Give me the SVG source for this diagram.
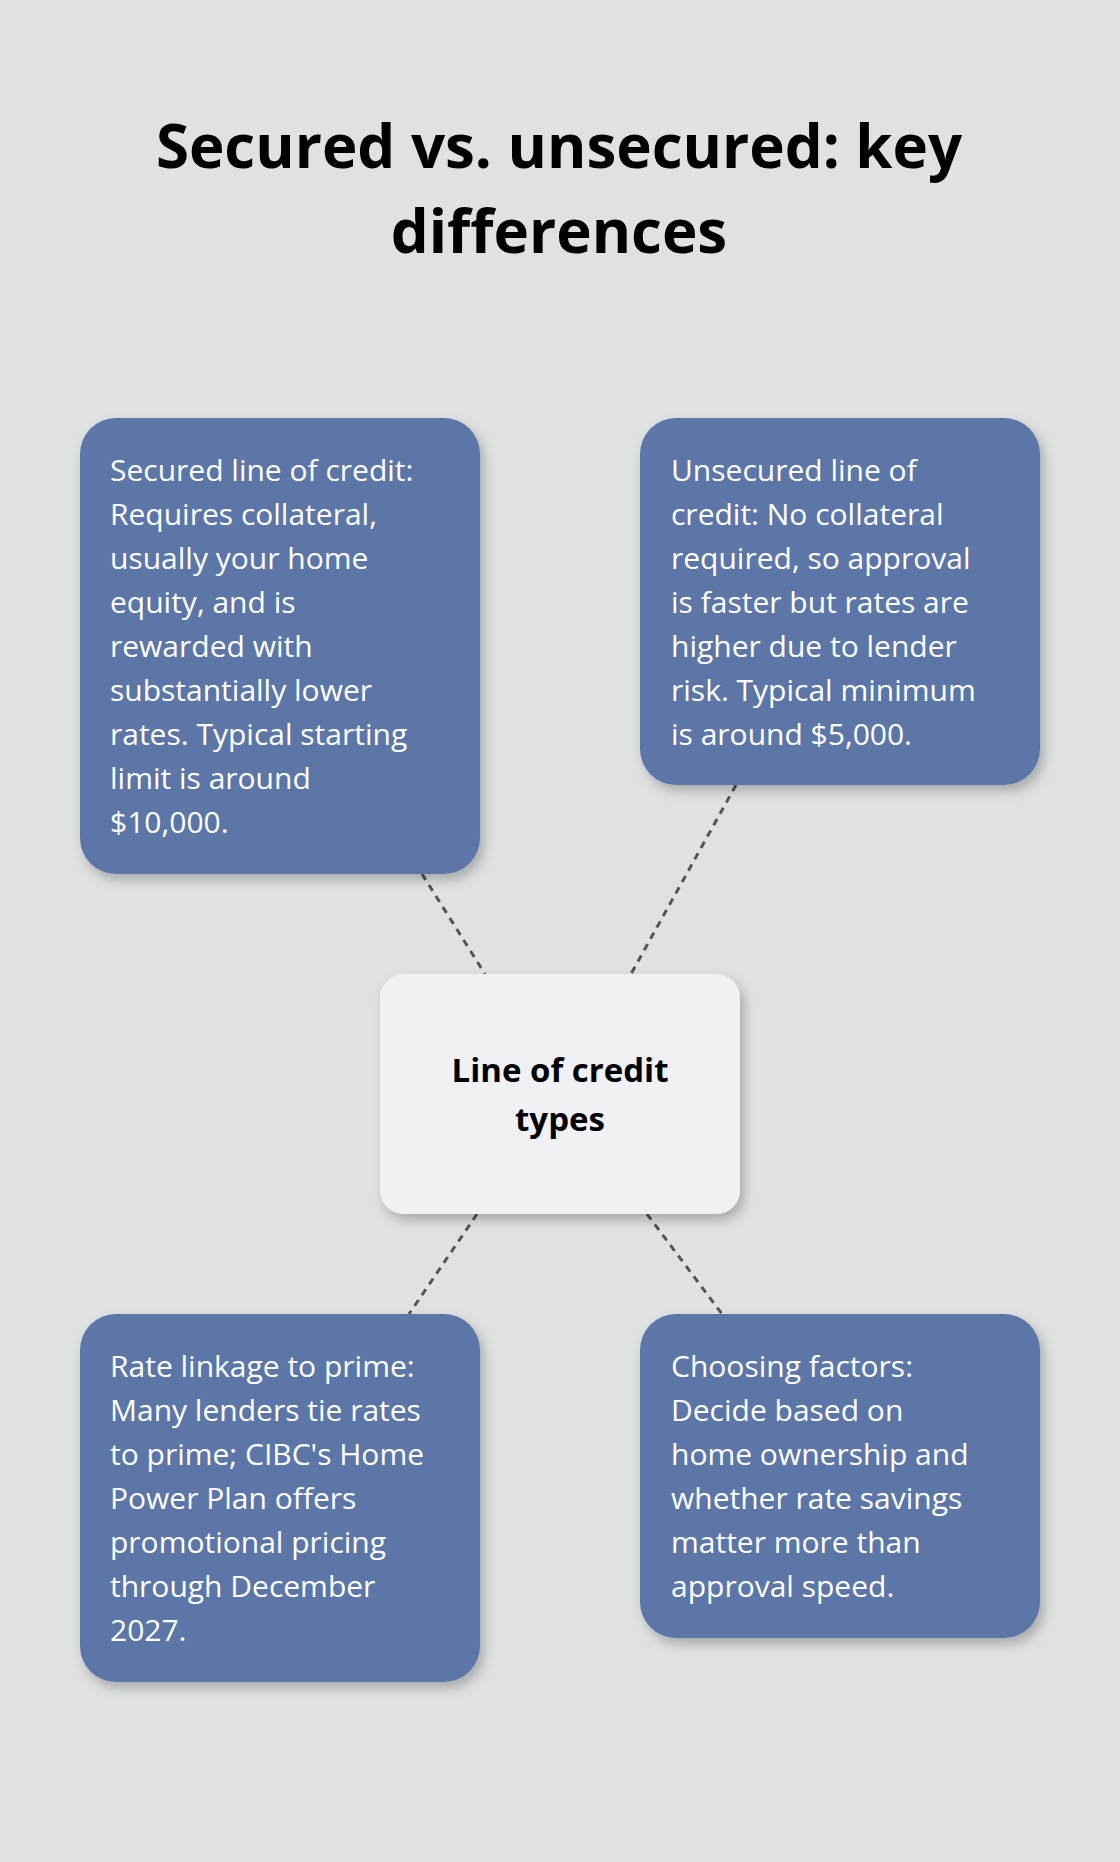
<svg xmlns="http://www.w3.org/2000/svg" width="1120" height="1862" viewBox="0 0 1120 1862">
<style>
.t{font-family:"Open Sans","Noto Sans",sans-serif;font-size:30px;fill:#fff}
.n{fill:#5b76a8;filter:url(#sh)}
.c{stroke:#555;stroke-width:3;stroke-dasharray:7 6;fill:none}
</style>
<defs><filter id="sh" x="-10%" y="-10%" width="130%" height="130%"><feDropShadow dx="4" dy="6" stdDeviation="6" flood-color="#000" flood-opacity="0.25"/></filter></defs>
<rect width="1120" height="1862" fill="#e0e2e2"/>
<g font-family="'Open Sans','Noto Sans',sans-serif" font-weight="bold" font-size="60" text-anchor="middle" fill="#000">
<text x="559" y="168">Secured vs. unsecured: key</text>
<text x="559" y="253">differences</text>
</g>
<g id="connectors">
<line class="c" x1="422" y1="874" x2="485" y2="974"/>
<line class="c" x1="736" y1="785" x2="631" y2="974"/>
<line class="c" x1="477" y1="1214" x2="409" y2="1314"/>
<line class="c" x1="647" y1="1214" x2="722" y2="1314"/>
</g>
<g id="center">
<rect x="380" y="974" width="360" height="240" rx="24" fill="#eff1f4" filter="url(#sh)"/>
<text x="560" y="1082" text-anchor="middle" font-family="'Open Sans','Noto Sans',sans-serif" font-weight="bold" font-size="33">Line of credit</text>
<text x="560" y="1131" text-anchor="middle" font-family="'Open Sans','Noto Sans',sans-serif" font-weight="bold" font-size="33">types</text>
</g>
<g id="secured">
<rect class="n" x="80" y="418" width="400" height="456" rx="36"/>
<text class="t"><tspan x="110" y="481">Secured line of credit:</tspan><tspan x="110" y="525">Requires collateral,</tspan><tspan x="110" y="569">usually your home</tspan><tspan x="110" y="613">equity, and is</tspan><tspan x="110" y="657">rewarded with</tspan><tspan x="110" y="701">substantially lower</tspan><tspan x="110" y="745">rates. Typical starting</tspan><tspan x="110" y="789">limit is around</tspan><tspan x="110" y="833">$10,000.</tspan></text>
</g>
<g id="unsecured">
<rect class="n" x="640" y="418" width="400" height="367" rx="36"/>
<text class="t"><tspan x="671" y="481">Unsecured line of</tspan><tspan x="671" y="525">credit: No collateral</tspan><tspan x="671" y="569">required, so approval</tspan><tspan x="671" y="613">is faster but rates are</tspan><tspan x="671" y="657">higher due to lender</tspan><tspan x="671" y="701">risk. Typical minimum</tspan><tspan x="671" y="745">is around $5,000.</tspan></text>
</g>
<g id="prime">
<rect class="n" x="80" y="1314" width="400" height="368" rx="36"/>
<text class="t"><tspan x="110" y="1377">Rate linkage to prime:</tspan><tspan x="110" y="1421">Many lenders tie rates</tspan><tspan x="110" y="1465">to prime; CIBC's Home</tspan><tspan x="110" y="1509">Power Plan offers</tspan><tspan x="110" y="1553">promotional pricing</tspan><tspan x="110" y="1597">through December</tspan><tspan x="110" y="1641">2027.</tspan></text>
</g>
<g id="factors">
<rect class="n" x="640" y="1314" width="400" height="324" rx="36"/>
<text class="t"><tspan x="671" y="1377">Choosing factors:</tspan><tspan x="671" y="1421">Decide based on</tspan><tspan x="671" y="1465">home ownership and</tspan><tspan x="671" y="1509">whether rate savings</tspan><tspan x="671" y="1553">matter more than</tspan><tspan x="671" y="1597">approval speed.</tspan></text>
</g>
</svg>
